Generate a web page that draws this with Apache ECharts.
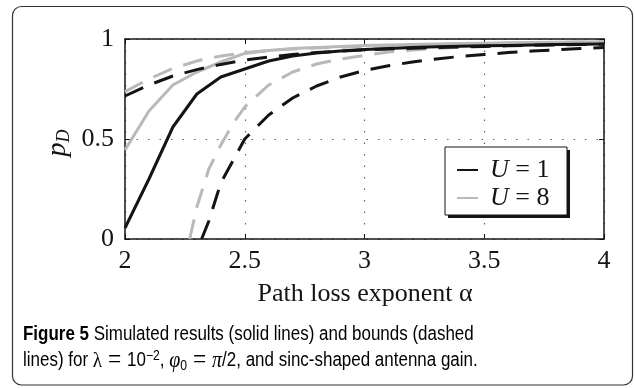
<!DOCTYPE html>
<html>
<head>
<meta charset="utf-8">
<script src="https://cdn.jsdelivr.net/npm/echarts@6/dist/echarts.min.js"></script>
<style>html,body{margin:0;padding:0;background:#fff;}#c{width:635px;height:388px;}</style>
</head>
<body>
<div id="c"></div>
<script>
// ---- data ----
const alphaSim = [2.0,2.1,2.2,2.3,2.4,2.5,2.6,2.7,2.8,2.9,3.0,3.1,3.2,3.3,3.4,3.5,3.6,3.7,3.8,3.9,4.0];
const simU1 = [0.055,0.30,0.56,0.725,0.81,0.85,0.89,0.915,0.93,0.94,0.948,0.953,0.958,0.961,0.964,0.966,0.968,0.970,0.972,0.974,0.975];
const simU8 = [0.445,0.64,0.77,0.835,0.885,0.928,0.943,0.952,0.958,0.963,0.967,0.970,0.973,0.975,0.977,0.979,0.981,0.983,0.984,0.985,0.986];
const boundU1Upper = [0.715,0.77,0.815,0.847,0.873,0.895,0.91,0.922,0.932,0.939,0.945,0.95,0.954,0.957,0.96,0.963,0.966,0.968,0.97,0.972,0.974];
const boundU8Upper = [0.737,0.80,0.853,0.89,0.915,0.932,0.943,0.95,0.955,0.959,0.963,0.967,0.970,0.972,0.975,0.977,0.979,0.981,0.983,0.985,0.986];
const alphaLowU1 = [2.32,2.35,2.4,2.45,2.5,2.6,2.7,2.8,2.9,3.0,3.1,3.2,3.3,3.4,3.5,3.6,3.7,3.8,3.9,4.0];
const boundU1Lower = [0,0.09,0.28,0.39,0.5,0.62,0.705,0.765,0.81,0.843,0.866,0.885,0.9,0.913,0.923,0.932,0.94,0.946,0.952,0.957];
const alphaLowU8 = [2.27,2.3,2.35,2.4,2.45,2.5,2.6,2.7,2.8,2.9,3.0,3.1,3.2,3.3,3.4,3.5,3.6,3.7,3.8,3.9,4.0];
const boundU8Lower = [0,0.16,0.35,0.47,0.575,0.66,0.77,0.835,0.875,0.9,0.918,0.935,0.945,0.953,0.96,0.965,0.97,0.974,0.977,0.98,0.982];
const xTicks = {min: 2, max: 4, interval: 0.5};
const yTicks = {min: 0, max: 1, interval: 0.5};
const legendNames = ['U = 1', 'U = 8'];
const xAxisTitle = 'Path loss exponent α';

// ---- styles ----
const BLACK = '#141414', GRAY = '#b9b9b9';
const SERIF = '"Liberation Serif", "DejaVu Serif", serif';
const CAP = '"Liberation Sans", "Noto Sans", sans-serif';
const DASH = [20, 12];

function pairs(xs, ys) { return xs.map((x, i) => [x, ys[i]]); }
function line(name, xs, ys, color, dashed, z) {
  return {
    type: 'line', name: name, data: pairs(xs, ys), showSymbol: false, symbol: 'none',
    smooth: false, clip: true, z: z, silent: true,
    lineStyle: {color: color, width: 3, type: dashed ? DASH : 'solid', cap: 'butt'},
    itemStyle: {color: color}
  };
}

const chart = echarts.init(document.getElementById('c'), null, {renderer: 'canvas'});
const axisCommon = {
  axisLine: {show: true, onZero: false, lineStyle: {color: BLACK, width: 1.5}},
  axisTick: {show: true, inside: true, length: 5, lineStyle: {color: BLACK, width: 1}},
  splitLine: {show: false}
};
chart.setOption({
  animation: false,
  backgroundColor: '#fff',
  grid: {left: 125, right: 31, top: 39, bottom: 149, containLabel: false},
  xAxis: [
    Object.assign({}, axisCommon, {
      type: 'value', min: xTicks.min, max: xTicks.max, interval: xTicks.interval, position: 'bottom',
      axisLabel: {color: BLACK, fontFamily: SERIF, fontSize: 26, margin: 9},
      splitLine: {show: true, lineStyle: {color: '#666', width: 1.2, type: [1.5, 10]}}
    }),
    Object.assign({}, axisCommon, {
      type: 'value', min: xTicks.min, max: xTicks.max, interval: xTicks.interval, position: 'top',
      axisLabel: {show: false}
    })
  ],
  yAxis: [
    Object.assign({}, axisCommon, {
      type: 'value', min: yTicks.min, max: yTicks.max, interval: yTicks.interval, position: 'left',
      axisLabel: {color: BLACK, fontFamily: SERIF, fontSize: 26, margin: 11},
      splitLine: {show: true, lineStyle: {color: '#666', width: 1.2, type: [1.5, 10]}}
    }),
    Object.assign({}, axisCommon, {
      type: 'value', min: yTicks.min, max: yTicks.max, interval: yTicks.interval, position: 'right',
      axisLabel: {show: false}
    })
  ],
  legend: {
    data: legendNames, orient: 'vertical', left: 457, top: 157, z: 100,
    itemWidth: 21, itemHeight: 2, itemGap: 2, icon: 'rect',
    selectedMode: false, padding: 0,
    formatter: function (n) { const p = n.split(' = '); return '{i|' + p[0] + '}{t| = ' + p[1] + '}'; },
    textStyle: {
      color: BLACK, fontFamily: SERIF, fontSize: 26, lineHeight: 26, padding: [0, 0, 0, 7],
      rich: {
        i: {fontFamily: SERIF, fontSize: 26, fontStyle: 'italic', color: BLACK, lineHeight: 26},
        t: {fontFamily: SERIF, fontSize: 26, color: BLACK, lineHeight: 26}
      }
    }
  },
  graphic: [
    {type: 'rect', silent: true, z: -10, shape: {x: 12.5, y: 6.5, width: 620, height: 378.5, r: 9},
     style: {fill: '#fff', stroke: '#333', lineWidth: 1.2}},
    {type: 'rect', silent: true, z: 50, shape: {x: 448, y: 150, width: 122, height: 68},
     style: {fill: BLACK}},
    {type: 'rect', silent: true, z: 51, shape: {x: 445, y: 147, width: 122, height: 68},
     style: {fill: '#fff', stroke: BLACK, lineWidth: 1}},
    {type: 'text', silent: true, z: 60, x: 58, y: 143, rotation: Math.PI / 2,
     style: {text: '{p|p}{d|D}', align: 'center', verticalAlign: 'middle',
       rich: {p: {fontFamily: SERIF, fontStyle: 'italic', fontSize: 28, fill: BLACK, lineHeight: 30},
              d: {fontFamily: SERIF, fontStyle: 'italic', fontSize: 18, fill: BLACK, verticalAlign: 'bottom', lineHeight: 30}}}},
    {type: 'text', silent: true, z: 60, x: 365, y: 294,
     style: {text: xAxisTitle, align: 'center', verticalAlign: 'middle', fontFamily: SERIF, fontSize: 26, fill: BLACK}},
    {type: 'text', silent: true, z: 60, x: 23, y: 335, scaleX: 0.87,
     style: {text: '{b|Figure 5} Simulated results (solid lines) and bounds (dashed', align: 'left', verticalAlign: 'middle',
       fontFamily: CAP, fontSize: 19.5, fill: '#000',
       rich: {b: {fontFamily: CAP, fontSize: 19.5, fontWeight: 'bold', fill: '#000'}}}},
    {type: 'text', silent: true, z: 60, x: 23, y: 361, scaleX: 0.87,
     style: {text: 'lines) for {m|λ}{e| = }10{sup|−2}, {it|φ}{sub|0}{e| = }{it|π}/2, and sinc-shaped antenna gain.', align: 'left', verticalAlign: 'middle',
       fontFamily: CAP, fontSize: 19.5, fill: '#000', lineHeight: 24,
       rich: {
         m: {fontFamily: SERIF, fontSize: 22, fill: '#000', lineHeight: 24},
         e: {fontFamily: SERIF, fontSize: 27, fill: '#000', lineHeight: 24},
         it: {fontFamily: SERIF, fontStyle: 'italic', fontSize: 23, fill: '#000', lineHeight: 24},
         sup: {fontFamily: CAP, fontSize: 14, fill: '#000', verticalAlign: 'top', lineHeight: 24},
         sub: {fontFamily: CAP, fontSize: 14, fill: '#000', verticalAlign: 'bottom', lineHeight: 24}
       }}}
  ],
  series: [
    line('bU8u', alphaSim, boundU8Upper, GRAY, true, 2),
    line('bU8l', alphaLowU8, boundU8Lower, GRAY, true, 2),
    line('U = 8', alphaSim, simU8, GRAY, false, 3),
    line('bU1u', alphaSim, boundU1Upper, BLACK, true, 4),
    line('bU1l', alphaLowU1, boundU1Lower, BLACK, true, 4),
    line('U = 1', alphaSim, simU1, BLACK, false, 5)
  ]
});
</script>
</body>
</html>
